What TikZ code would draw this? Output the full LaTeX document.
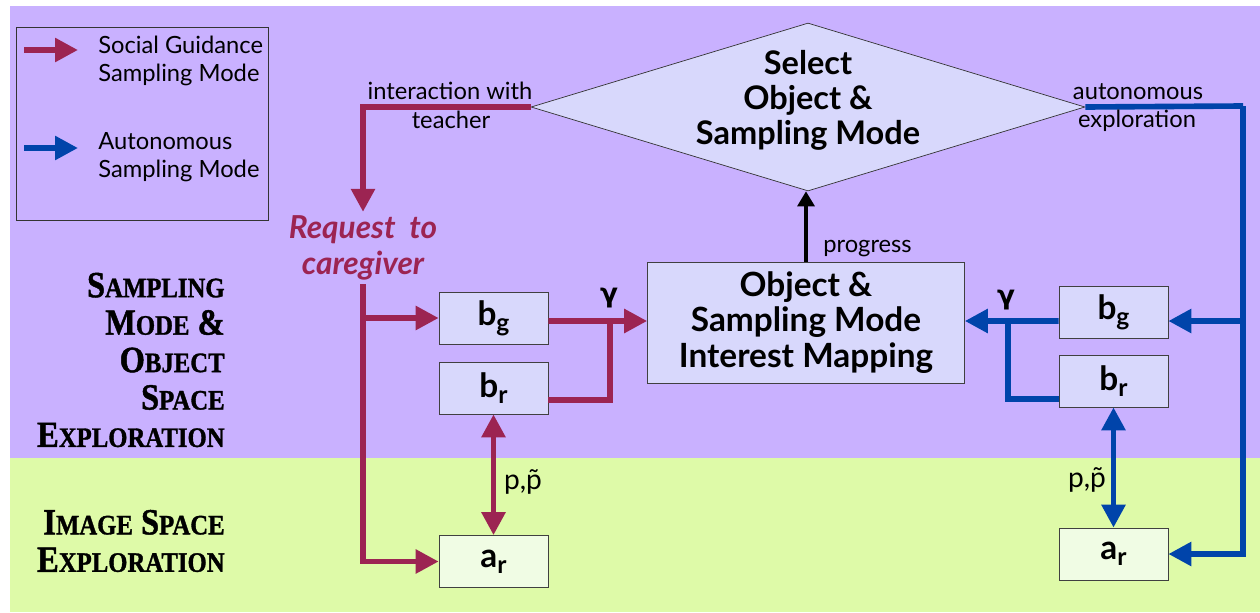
\documentclass[tikz,border=0pt]{standalone}
\usepackage{fontspec}
\setmainfont{Lato}
\newfontfamily\capsfont{Liberation Serif Bold}[FakeStretch=0.88,FakeBold=1.2]
\newfontfamily\greekfont{DejaVu Sans Bold}
\usetikzlibrary{shapes.geometric,arrows.meta}

\definecolor{bgpurple}{RGB}{201,177,255}
\definecolor{bggreen}{RGB}{222,250,168}
\definecolor{boxfill}{RGB}{216,216,252}
\definecolor{imgfill}{RGB}{240,252,228}
\definecolor{socialred}{RGB}{156,36,82}
\definecolor{autoblue}{RGB}{0,68,170}

\newcommand{\capsword}[2]{{\fontsize{21}{21}\selectfont #1}{\fontsize{16}{16}\selectfont #2}}
\newcommand{\vecname}[2]{#1\raisebox{-0.35ex}{\fontsize{14}{14}\selectfont #2}}

\begin{document}
\begin{tikzpicture}[x=0.02cm,y=-0.02cm,
  >={Triangle[length=0.46cm,width=0.46cm]},
  box/.style={draw=black!75,fill=boxfill,minimum width=2.18cm,minimum height=1.04cm,
    inner sep=0pt,font=\bfseries\fontsize{19}{20}\selectfont},
  imgbox/.style={box,fill=imgfill},
  social/.style={line width=3.2pt,draw=socialred},
  autonomous/.style={line width=3.2pt,draw=autoblue},
  lbl/.style={font=\fontsize{13.5}{16}\selectfont,inner sep=0pt},
  greek/.style={font=\greekfont\fontsize{15}{15}\selectfont,inner sep=0pt},
  section/.style={font=\capsfont\fontsize{21}{21.3}\selectfont,align=right,inner sep=0pt}]

\useasboundingbox (0,0) rectangle (1260,612);
\fill[bgpurple] (10,6) rectangle (1260,458);
\fill[bggreen] (10,458) rectangle (1260,612);

% legend
\node[draw=black!80,minimum width=5.04cm,minimum height=3.86cm] (legend) at (142,123.5) {};
\coordinate (sgfrom) at (24,50);
\coordinate (sgto) at (78,50);
\coordinate (aufrom) at (24,148);
\coordinate (auto) at (78,148);
\draw[social,->] (sgfrom) -- (sgto);
\draw[autonomous,->] (aufrom) -- (auto);
\node[lbl,anchor=west,align=left] (sglbl) at (98,61) {Social Guidance\\Sampling Mode};
\node[lbl,anchor=west,align=left] (aulbl) at (98,157) {Autonomous\\Sampling Mode};

% levels
\node[section,anchor=east] (objspace) at (225,360)
  {\capsword{S}{AMPLING}\\\capsword{M}{ODE} \capsword{\&}{}\\\capsword{O}{BJECT}\\\capsword{S}{PACE}\\\capsword{E}{XPLORATION}};
\node[section,anchor=east] (imgspace) at (225,541)
  {\capsword{I}{MAGE} \capsword{S}{PACE}\\\capsword{E}{XPLORATION}};

% nodes
\node[draw=black!80,fill=boxfill,shape=diamond,aspect=3,minimum width=11.08cm,minimum height=3.36cm,inner sep=0pt,
  label={[align=center,yshift=0.14cm,font=\bfseries\fontsize{18.5}{20}\selectfont]center:Select\\Object \&\\Sampling Mode}]
  (sel) at (808,107) {};
\node[draw=black!75,fill=boxfill,minimum width=6.34cm,minimum height=2.42cm,align=center,
  font=\bfseries\fontsize{19}{20}\selectfont] (map) at (806,322.5)
  {Object \&\\Sampling Mode\\Interest Mapping};
\node[font=\bfseries\itshape\fontsize{18}{20.5}\selectfont,text=socialred,align=center,inner sep=2pt] (req)
  at (363,248) {Request\ \ to\\caregiver};

\node[box] (bg1) at (493.5,318) {\vecname{b}{g}};
\node[box] (br1) at (493.5,388) {\vecname{b}{r}};
\node[imgbox] (ar1) at (493.5,561.5) {\vecname{a}{r}};
\node[box] (bg2) at (1113.5,312) {\vecname{b}{g}};
\node[box] (br2) at (1113.5,381) {\vecname{b}{r}};
\node[imgbox] (ar2) at (1113.5,554) {\vecname{a}{r}};

% social guidance
\draw[social,->] (sel.west) -| (req.north);
\draw[social,->] (req.south) |- (ar1.west);
\draw[social,->] (req.south |- bg1.west) -- (bg1.west);
\coordinate (jl) at (610,321);
\draw[social,->] ([yshift=-0.06cm]bg1.east) -- (map.west |- jl);
\draw[social] ([yshift=-0.24cm]br1.east) -| (jl);
\draw[social,<->] (br1.south) -- (ar1.north);

% autonomous
\coordinate (rc) at (1243,106);
\coordinate (rb) at (1243,321);
\draw[autonomous] (sel.east) -- (rc);
\draw[autonomous,->] (rc) |- (ar2.east);
\draw[autonomous,->] (rb) -- (bg2.east |- rb);
\coordinate (jr) at (1008,321);
\draw[autonomous,->] ([yshift=-0.18cm]bg2.west) -- (map.east |- jr);
\draw[autonomous] ([yshift=-0.36cm]br2.west) -| (jr);
\draw[autonomous,<->] (br2.south) -- (ar2.north);

\draw[line width=1.8pt,-{Triangle[length=0.3cm,width=0.34cm]}] (map.north) -- (map.north |- sel.south);

% labels
\node[lbl,anchor=base] (inter) at (450,99) {interaction with};
\node[lbl,anchor=base] (teach) at (451,128) {teacher};
\node[lbl,anchor=base] (autolbl) at (1138,99) {autonomous};
\node[lbl,anchor=base] (explo) at (1137,127) {exploration};
\node[lbl,anchor=base west] (prog) at (823,252) {progress};
\node[greek] (gl) at (609,298) {γ};
\node[greek] (gr) at (1006,300) {γ};
\node[lbl,font=\fontsize{16}{16}\selectfont] (pl) at (523,482) {p,\~{p}};
\node[lbl,font=\fontsize{16}{16}\selectfont] (pr) at (1087,480) {p,\~{p}};

\end{tikzpicture}
\end{document}
